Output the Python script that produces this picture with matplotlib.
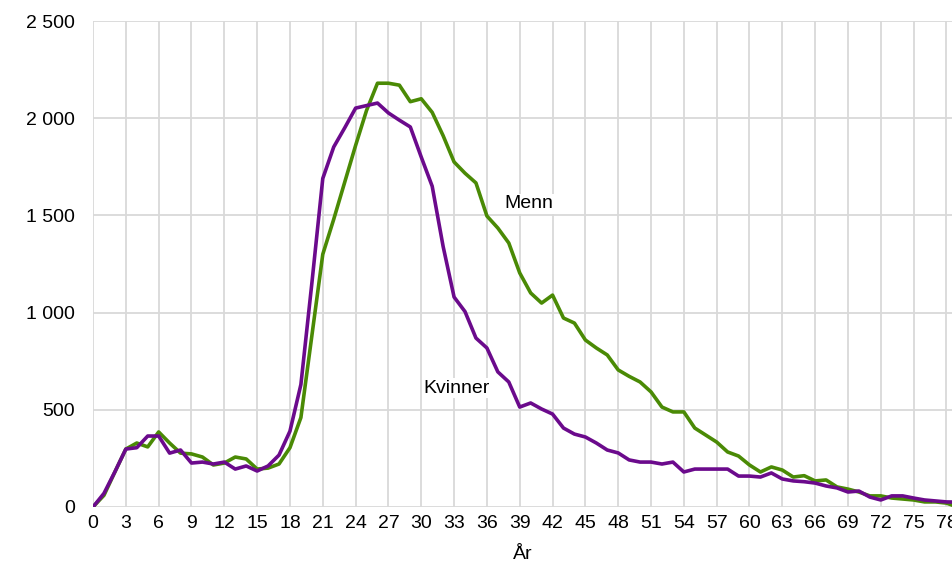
import numpy as np
import matplotlib.pyplot as plt
from matplotlib.ticker import FuncFormatter

plt.rcParams['font.family'] = ['Liberation Sans', 'DejaVu Sans']

# Alder 0-79
ages = list(range(0, 80))

menn = [0, 60, 180, 298, 329, 309, 386, 329, 277, 273,
        257, 216, 226, 257, 247, 195, 200, 221, 305, 460,
        880, 1300, 1480, 1670, 1860, 2040, 2180, 2180, 2170, 2085,
        2100, 2030, 1910, 1775, 1717, 1667, 1497, 1435, 1358, 1204,
        1101, 1049, 1090, 972, 946, 859, 818, 782, 705, 672,
        643, 592, 514, 489, 489, 406, 370, 334, 283, 262,
        216, 180, 206, 190, 154, 161, 134, 139, 103, 92,
        77, 57, 57, 46, 41, 36, 26, 26, 20, 0]

kvinner = [0, 70, 181, 298, 305, 365, 365, 277, 293, 226,
           231, 221, 231, 195, 211, 185, 211, 267, 390, 630,
           1150, 1690, 1852, 1950, 2052, 2065, 2078, 2027, 1990, 1955,
           1800, 1650, 1340, 1080, 1005, 869, 818, 695, 643, 514,
           535, 504, 478, 406, 375, 360, 329, 293, 278, 242,
           231, 231, 221, 231, 180, 195, 195, 195, 195, 159,
           159, 154, 175, 144, 134, 130, 123, 108, 98, 77,
           82, 51, 36, 57, 57, 46, 36, 31, 26, 25]

xticks = list(range(0, 79, 3))
yticks = [0, 500, 1000, 1500, 2000, 2500]

green = '#4a8a05'
purple = '#6b0a8c'

fig = plt.figure(figsize=(9.53, 5.65), dpi=100)
ax = fig.add_axes([0.0976, 0.1027, 0.9024, 0.8601])

ax.plot(ages, menn, color=green, linewidth=2.6, zorder=3)
ax.plot(ages, kvinner, color=purple, linewidth=2.6, zorder=4)

ax.set_xlim(0, 78.6)
ax.set_ylim(0, 2500)
ax.set_xticks(xticks)
ax.set_yticks(yticks)
ax.yaxis.set_major_formatter(FuncFormatter(lambda v, p: f"{int(v):,}".replace(",", " ")))

ax.grid(True, color='#d9d9d9', linewidth=1.3)
ax.set_axisbelow(True)
for s in ax.spines.values():
    s.set_visible(False)
ax.tick_params(axis='both', length=0, labelsize=14)
ax.tick_params(axis='y', pad=13)
ax.tick_params(axis='x', pad=6)

ax.set_xlabel("År", fontsize=14, labelpad=10)

bbox = dict(facecolor='white', edgecolor='none', pad=1)
ax.text(39.8, 1560, "Menn", fontsize=14, ha='center', va='center', bbox=bbox, zorder=5)
ax.text(33.2, 612, "Kvinner", fontsize=14, ha='center', va='center', bbox=bbox, zorder=5)

fig.savefig("out.png", dpi=100)
